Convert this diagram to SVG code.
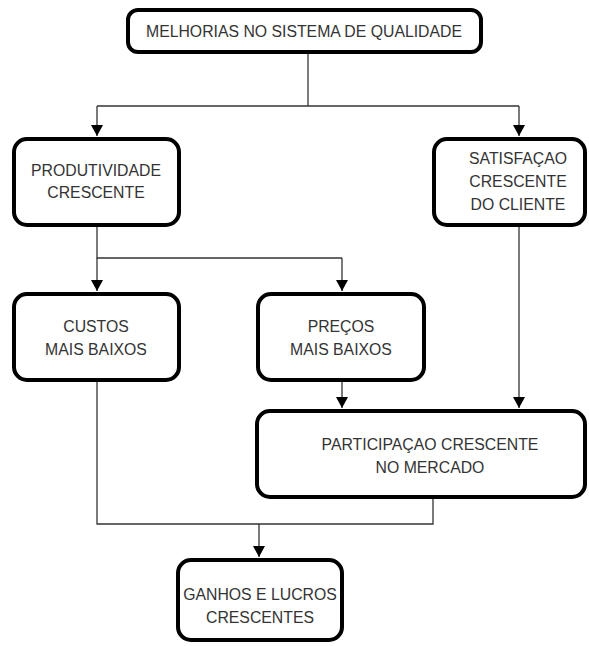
<svg xmlns="http://www.w3.org/2000/svg" width="589" height="646" viewBox="0 0 589 646">
  <style>
    .box { fill: #ffffff; stroke: #000000; stroke-width: 4; }
    .lbl { font-family: "Liberation Sans", Arial, sans-serif; font-size: 15.8px; fill: #333333; text-anchor: middle; }
    .wire { fill: none; stroke: #333333; stroke-width: 1.3; }
  </style>
  <defs>
    <marker id="arrow" viewBox="0 0 11 12" refX="11" refY="6" markerWidth="11" markerHeight="12" markerUnits="userSpaceOnUse" orient="auto">
      <path d="M0,0 L11,6 L0,12 Z" fill="#000000"/>
    </marker>
  </defs>
  <rect width="589" height="646" fill="#ffffff"/>

  <g id="connectors">
    <!-- top box splits to both branches -->
    <path class="wire" d="M308,53 V106"/>
    <path class="wire" d="M97,106 H519"/>
    <path class="wire" d="M97,106 V136" marker-end="url(#arrow)"/>
    <path class="wire" d="M519,106 V136" marker-end="url(#arrow)"/>
    <!-- productivity splits to costs and prices -->
    <path class="wire" d="M97,226 V258 H342"/>
    <path class="wire" d="M97,258 V291" marker-end="url(#arrow)"/>
    <path class="wire" d="M342,258 V291" marker-end="url(#arrow)"/>
    <!-- prices and satisfaction into market share -->
    <path class="wire" d="M342,382 V408" marker-end="url(#arrow)"/>
    <path class="wire" d="M519,227 V408" marker-end="url(#arrow)"/>
    <!-- costs and market share merge into profits -->
    <path class="wire" d="M97,382 V524 H433 V499"/>
    <path class="wire" d="M259,524 V557" marker-end="url(#arrow)"/>
  </g>

  <g id="node-melhorias">
    <rect class="box" x="128" y="10" width="353" height="42" rx="10"/>
    <text class="lbl" x="304" y="37">MELHORIAS NO SISTEMA DE QUALIDADE</text>
  </g>

  <g id="node-produtividade">
    <rect class="box" x="14" y="139" width="165" height="86" rx="13"/>
    <text class="lbl" x="96" y="176">PRODUTIVIDADE</text>
    <text class="lbl" x="96" y="198">CRESCENTE</text>
  </g>

  <g id="node-satisfacao">
    <rect class="box" x="434" y="139" width="151" height="86" rx="13"/>
    <text class="lbl" x="518" y="164">SATISFAÇAO</text>
    <text class="lbl" x="518" y="187">CRESCENTE</text>
    <text class="lbl" x="518" y="210">DO CLIENTE</text>
  </g>

  <g id="node-custos">
    <rect class="box" x="14" y="294" width="165" height="86" rx="13"/>
    <text class="lbl" x="96" y="332">CUSTOS</text>
    <text class="lbl" x="96" y="355">MAIS BAIXOS</text>
  </g>

  <g id="node-precos">
    <rect class="box" x="258" y="294" width="166" height="86" rx="13"/>
    <text class="lbl" x="341" y="332">PREÇOS</text>
    <text class="lbl" x="341" y="355">MAIS BAIXOS</text>
  </g>

  <g id="node-participacao">
    <rect class="box" x="257" y="411" width="328" height="86" rx="13"/>
    <text class="lbl" x="430" y="450">PARTICIPAÇAO CRESCENTE</text>
    <text class="lbl" x="430" y="473">NO MERCADO</text>
  </g>

  <g id="node-ganhos">
    <rect class="box" x="178" y="560" width="164" height="80" rx="13"/>
    <text class="lbl" x="260" y="600">GANHOS E LUCROS</text>
    <text class="lbl" x="260" y="623">CRESCENTES</text>
  </g>
</svg>
